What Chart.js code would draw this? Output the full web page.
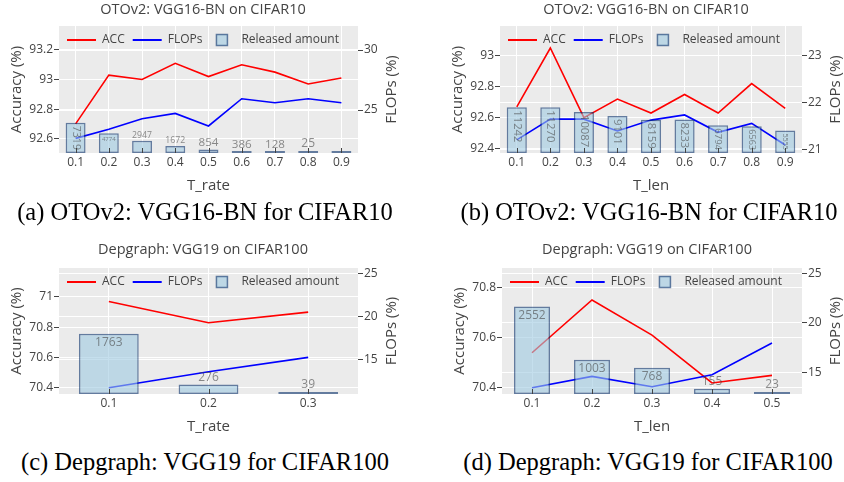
<!DOCTYPE html>
<html>
<head>
<meta charset="utf-8">
<script src="https://cdn.jsdelivr.net/npm/chart.js@4.4.0/dist/chart.umd.min.js"></script>
<style>
  body { margin: 0; background: #fff; }
  #page { position: relative; width: 844px; height: 482px; overflow: hidden; }
  .panel { position: absolute; width: 422px; height: 200px; }
  .caption {
    position: absolute; width: 422px; text-align: center; white-space: nowrap;
    font-family: "Liberation Serif", "Times New Roman", serif; font-size: 24.5px; color: #000;
  }
</style>
</head>
<body>
<div id="page">
  <div class="panel" style="left:0;top:0"><canvas id="chart-a"></canvas></div>
  <div class="panel" style="left:422px;top:0"><canvas id="chart-b"></canvas></div>
  <div class="panel" style="left:0;top:240px"><canvas id="chart-c"></canvas></div>
  <div class="panel" style="left:422px;top:240px"><canvas id="chart-d"></canvas></div>
  <div class="caption" style="left:-6px;top:198px">(a) OTOv2: VGG16-BN for CIFAR10</div>
  <div class="caption" style="left:438px;top:198px">(b) OTOv2: VGG16-BN for CIFAR10</div>
  <div class="caption" style="left:-6px;top:448px">(c) Depgraph: VGG19 for CIFAR100</div>
  <div class="caption" style="left:437px;top:448px">(d) Depgraph: VGG19 for CIFAR100</div>
</div>
<script>
// ---- data ----
const tRate9 = ["0.1", "0.2", "0.3", "0.4", "0.5", "0.6", "0.7", "0.8", "0.9"];
const tLen9 = ["0.1", "0.2", "0.3", "0.4", "0.5", "0.6", "0.7", "0.8", "0.9"];
const tRate3 = ["0.1", "0.2", "0.3"];
const tLen5 = ["0.1", "0.2", "0.3", "0.4", "0.5"];

// (a) OTOv2, T_rate
const otoRateAcc = [92.70, 93.03, 93.00, 93.11, 93.02, 93.10, 93.05, 92.97, 93.01];
const otoRateFlops = [22.64, 23.39, 24.28, 24.72, 23.67, 25.94, 25.61, 25.94, 25.61];
const otoRateReleased = [7319, 4774, 2947, 1672, 854, 386, 128, 25, 0];
const otoRateAccTicks = [92.6, 92.8, 93, 93.2];
const otoRateFlopsTicks = [25, 30];

// (b) OTOv2, T_len
const otoLenAcc = [92.67, 93.05, 92.60, 92.72, 92.63, 92.75, 92.63, 92.82, 92.66];
const otoLenFlops = [21.21, 21.65, 21.65, 21.40, 21.63, 21.74, 21.37, 21.56, 21.10];
const otoLenReleased = [11242, 11270, 10087, 9101, 8159, 8233, 6794, 6563, 5555];
const otoLenAccTicks = [92.4, 92.6, 92.8, 93];
const otoLenFlopsTicks = [21, 22, 23];

// (c) Depgraph, T_rate
const depRateAcc = [70.97, 70.83, 70.90];
const depRateFlops = [11.76, 13.60, 15.27];
const depRateReleased = [1763, 276, 39];
const depRateAccTicks = [70.4, 70.6, 70.8, 71];
const depRateFlopsTicks = [15, 20, 25];

// (d) Depgraph, T_len
const depLenAcc = [70.54, 70.75, 70.61, 70.42, 70.45];
const depLenFlops = [13.45, 14.60, 13.56, 14.77, 17.97];
const depLenReleased = [2552, 1003, 768, 155, 23];
const depLenAccTicks = [70.4, 70.6, 70.8];
const depLenFlopsTicks = [15, 20, 25];

// ---- drawing ----
const FONT = '"Open Sans", "DejaVu Sans", sans-serif';
const TXT = "#444";
const barFill = "rgba(158,202,225,0.6)";
const barLine = "rgba(8,48,107,0.6)";

// plotly-like "auto" text placement: inside (maybe rotated / shrunk) or above the bar
function drawBarText(ctx, el, text) {
  const pad = 3, fs = 12;
  ctx.font = fs + "px " + FONT;
  const tw = ctx.measureText(text).width, th = fs * 1.25;
  const w = el.width, h = el.base - el.y;
  const iw = w - 2 * pad, ih = h - 2 * pad;
  const fitsShrunk = ih > 0 && iw > 0 && ih >= th * (iw / tw);
  const inside = (tw <= iw && th <= ih) || (tw <= ih && th <= iw) || fitsShrunk;
  ctx.save();
  ctx.fillStyle = "rgba(68,68,68,0.6)";
  ctx.textAlign = "center";
  if (inside) {
    const sH = Math.min(1, iw / tw, ih / th);
    const sR = Math.min(1, ih / tw, iw / th);
    if (sR > sH) {
      ctx.font = (fs * sR) + "px " + FONT;
      const w2 = ctx.measureText(text).width;
      ctx.translate(el.x, el.y + pad + w2 / 2);
      ctx.rotate(Math.PI / 2);
      ctx.textBaseline = "middle";
      ctx.fillText(text, 0, 0);
    } else {
      ctx.font = (fs * sH) + "px " + FONT;
      ctx.textBaseline = "top";
      ctx.fillText(text, el.x, el.y + pad);
    }
  } else {
    const s = Math.min(1, w / tw);
    ctx.font = (fs * s) + "px " + FONT;
    ctx.textBaseline = "bottom";
    ctx.fillText(text, el.x, el.y - 1);
  }
  ctx.restore();
}

function drawLegend(ctx, area) {
  const y = area.top + 14;
  let x = area.left + 3;
  const items = [
    { kind: "line", color: "#ff0000", text: "ACC" },
    { kind: "line", color: "#0000ff", text: "FLOPs" },
    { kind: "box", text: "Released amount" }
  ];
  ctx.save();
  ctx.font = "12px " + FONT;
  ctx.textBaseline = "middle";
  ctx.textAlign = "left";
  items.forEach(it => {
    let tx = x + 40;
    if (it.kind === "line") {
      ctx.strokeStyle = it.color;
      ctx.lineWidth = 2;
      ctx.beginPath();
      ctx.moveTo(x + 5, y);
      ctx.lineTo(x + 34, y);
      ctx.stroke();
    } else {
      x -= 4;
      tx = x + 40;
      ctx.fillStyle = barFill;
      ctx.fillRect(x + 15, y - 5.5, 11, 11);
      ctx.strokeStyle = barLine;
      ctx.lineWidth = 1.5;
      ctx.strokeRect(x + 15, y - 5.5, 11, 11);
    }
    ctx.fillStyle = TXT;
    ctx.fillText(it.text, tx, y);
    x = tx + ctx.measureText(it.text).width + 3;
  });
  ctx.restore();
}

function makePanel(id, o) {
  const W = 422, H = 200;
  const decor = {
    id: "decor" + id,
    beforeDraw(chart) {
      const a = chart.chartArea, ctx = chart.ctx;
      ctx.save();
      ctx.fillStyle = "#ebebeb";
      ctx.fillRect(a.left, a.top, a.right - a.left, a.bottom - a.top);
      ctx.restore();
    },
    afterDatasetsDraw(chart) {
      const a = chart.chartArea, ctx = chart.ctx;
      const xs = chart.scales.x;
      // short ticks pointing into the plot
      ctx.save();
      ctx.strokeStyle = TXT;
      ctx.lineWidth = 1;
      o.labels.forEach((_, i) => {
        const px = Math.round(xs.getPixelForValue(i)) + 0.5;
        ctx.beginPath();
        ctx.moveTo(px, a.bottom);
        ctx.lineTo(px, a.bottom - 5);
        ctx.stroke();
      });
      ctx.restore();
      const meta = chart.getDatasetMeta(0);
      meta.data.forEach((el, i) => {
        const v = o.released[i];
        if (v > 0) drawBarText(ctx, el, String(v));
      });
      drawLegend(ctx, a);
    },
    afterDraw(chart) {
      const a = chart.chartArea, ctx = chart.ctx;
      ctx.save();
      ctx.fillStyle = TXT;
      ctx.textAlign = "center";
      ctx.textBaseline = "middle";
      ctx.font = "14.5px " + FONT;
      ctx.fillText(o.title, o.titleX, 9.5);
      ctx.font = "15px " + FONT;
      ctx.fillText(o.xTitle, (a.left + a.right) / 2, a.bottom + 33);
      const cy = (a.top + a.bottom) / 2;
      ctx.save();
      ctx.translate(a.left - 42, cy);
      ctx.rotate(-Math.PI / 2);
      ctx.fillText("Accuracy (%)", 0, 0);
      ctx.restore();
      ctx.save();
      ctx.translate(a.right + 34, cy);
      ctx.rotate(-Math.PI / 2);
      ctx.fillText("FLOPs (%)", 0, 0);
      ctx.restore();
      ctx.restore();
    }
  };

  const tickFont = { family: FONT, size: 12 };
  new Chart(document.getElementById(id), {
    type: "bar",
    data: {
      labels: o.labels,
      datasets: [
        {
          type: "bar",
          label: "Released amount",
          data: o.released,
          yAxisID: "yb",
          backgroundColor: barFill,
          borderColor: barLine,
          borderWidth: 1.5,
          borderSkipped: false,
          barPercentage: 0.6,
          categoryPercentage: 1,
          minBarLength: 2,
          order: 0
        },
        {
          type: "line",
          label: "ACC",
          data: o.acc,
          yAxisID: "y",
          borderColor: "#ff0000",
          borderWidth: 1.6,
          pointRadius: 0,
          tension: 0,
          order: 2
        },
        {
          type: "line",
          label: "FLOPs",
          data: o.flops,
          yAxisID: "y2",
          borderColor: "#0000ff",
          borderWidth: 1.6,
          pointRadius: 0,
          tension: 0,
          order: 1
        }
      ]
    },
    options: {
      responsive: true,
      maintainAspectRatio: false,
      animation: false,
      events: [],
      layout: { autoPadding: false, padding: { top: o.plot.t, left: 0, right: 0, bottom: 0 } },
      plugins: { legend: { display: false }, tooltip: { enabled: false }, title: { display: false } },
      scales: {
        x: {
          type: "category",
          offset: true,
          border: { display: false },
          grid: { color: "#ffffff", lineWidth: 1, offset: false, drawTicks: false },
          ticks: { font: tickFont, color: TXT, padding: 2, autoSkip: false, maxRotation: 0 },
          afterFit: s => { s.height = H - o.plot.b; }
        },
        y: {
          position: "left",
          min: o.accRange[0],
          max: o.accRange[1],
          border: { display: false },
          grid: { color: "#ffffff", lineWidth: 1, tickColor: TXT, tickLength: 5 },
          ticks: { font: tickFont, color: TXT, padding: 1, callback: v => String(v) },
          afterBuildTicks: s => { s.ticks = o.accTicks.map(v => ({ value: v })); },
          afterFit: s => { s.width = o.plot.l; }
        },
        y2: {
          position: "right",
          min: o.flopsRange[0],
          max: o.flopsRange[1],
          border: { display: false },
          grid: { color: "#ffffff", lineWidth: 1, tickColor: TXT, tickLength: 5 },
          ticks: { font: tickFont, color: TXT, padding: 1, callback: v => String(v) },
          afterBuildTicks: s => { s.ticks = o.flopsTicks.map(v => ({ value: v })); },
          afterFit: s => { s.width = W - o.plot.r; }
        },
        yb: { display: false, min: 0, max: o.barMax }
      }
    },
    plugins: [decor]
  });
}

makePanel("chart-a", {
  labels: tRate9, acc: otoRateAcc, flops: otoRateFlops, released: otoRateReleased,
  accTicks: otoRateAccTicks, flopsTicks: otoRateFlopsTicks,
  accRange: [92.503, 93.362], flopsRange: [21.42, 32.0], barMax: 30700,
  title: "OTOv2: VGG16-BN on CIFAR10", titleX: 203, xTitle: "T_rate",
  plot: { l: 59, r: 358, t: 26, b: 153 }
});
makePanel("chart-b", {
  labels: tLen9, acc: otoLenAcc, flops: otoLenFlops, released: otoLenReleased,
  accTicks: otoLenAccTicks, flopsTicks: otoLenFlopsTicks,
  accRange: [92.372, 93.192], flopsRange: [20.93, 23.632], barMax: 31200,
  title: "OTOv2: VGG16-BN on CIFAR10", titleX: 224, xTitle: "T_len",
  plot: { l: 78, r: 380, t: 26, b: 153 }
});
makePanel("chart-c", {
  labels: tRate3, acc: depRateAcc, flops: depRateFlops, released: depRateReleased,
  accTicks: depRateAccTicks, flopsTicks: depRateFlopsTicks,
  accRange: [70.360, 71.191], flopsRange: [11.03, 25.63], barMax: 3680,
  title: "Depgraph: VGG19 on CIFAR100", titleX: 203, xTitle: "T_rate",
  plot: { l: 59, r: 358, t: 28, b: 154 }
});
makePanel("chart-d", {
  labels: tLen5, acc: depLenAcc, flops: depLenFlops, released: depLenReleased,
  accTicks: depLenAccTicks, flopsTicks: depLenFlopsTicks,
  accRange: [70.376, 70.877], flopsRange: [12.82, 25.55], barMax: 3680,
  title: "Depgraph: VGG19 on CIFAR100", titleX: 225, xTitle: "T_len",
  plot: { l: 80, r: 380, t: 28, b: 154 }
});
</script>
</body>
</html>
